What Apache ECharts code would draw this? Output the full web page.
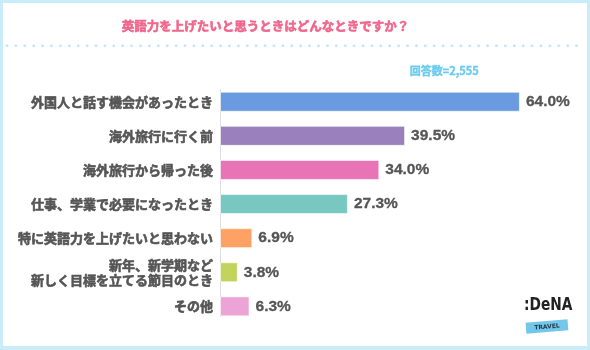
<!DOCTYPE html>
<html>
<head>
<meta charset="utf-8">
<script src="https://cdn.jsdelivr.net/npm/echarts@6/dist/echarts.min.js"></script>
<style>
  html, body { margin: 0; padding: 0; background: #c9ecf9; width: 590px; height: 350px; overflow: hidden; }
  #chart { position: absolute; left: 3px; top: 3px; width: 584px; height: 343px; background: #ffffff; }
</style>
</head>
<body>
<div id="chart"></div>
<script>
// Survey answers (multiple choice), share of respondents in percent
const categories = [
  '外国人と話す機会があったとき',
  '海外旅行に行く前',
  '海外旅行から帰った後',
  '仕事、学業で必要になったとき',
  '特に英語力を上げたいと思わない',
  '新年、新学期など\n新しく目標を立てる節目のとき',
  'その他'
];
const values = [64.0, 39.5, 34.0, 27.3, 6.9, 3.8, 6.3];
const titleText = '英語力を上げたいと思うときはどんなときですか？';
const sampleText = '回答数=2,555';

const palette = ['#6a9be0', '#9b80be', '#e874b6', '#78c7c0', '#fea164', '#c3d45e', '#eca3d5'];

const chart = echarts.init(document.getElementById('chart'), null, { renderer: 'canvas' });

const gridLeft = 217, gridTop = 81.7, gridHeight = 238.7;

chart.setOption({
  animation: false,
  title: {
    text: titleText,
    left: 257.5,
    top: 12,
    textAlign: 'center',
    textStyle: {
      color: '#f0668c', fontSize: 12.5, fontWeight: 'bold', fontFamily: 'Noto Sans CJK JP',
      textBorderColor: '#f0668c', textBorderWidth: 0.6
    }
  },
  grid: { left: gridLeft, top: gridTop, width: 328, height: gridHeight },
  xAxis: { type: 'value', min: 0, max: 70, show: false },
  yAxis: {
    type: 'category',
    data: categories,
    inverse: true,
    axisLine: { show: false },
    axisTick: { show: false },
    axisLabel: {
      margin: 7,
      color: '#555555',
      fontSize: 13,
      fontWeight: 'bold',
      lineHeight: 15,
      fontFamily: 'Noto Sans CJK JP',
      textBorderColor: '#555555',
      textBorderWidth: 0.6
    }
  },
  series: [{
    type: 'bar',
    data: values.map((v, i) => ({ value: v, itemStyle: { color: palette[i] } })),
    barWidth: 20,
    itemStyle: { borderColor: 'rgba(255,255,255,0.6)', borderWidth: 1 },
    label: {
      show: true,
      position: 'right',
      distance: 6,
      formatter: p => p.value.toFixed(1) + '%',
      color: '#555555',
      fontSize: 15.5,
      fontWeight: 'bold',
      fontFamily: 'Liberation Sans',
      textBorderColor: '#555555',
      textBorderWidth: 0.3
    }
  }],
  graphic: [
    // dotted separator under the heading
    {
      type: 'line',
      shape: { x1: 4, y1: 42.7, x2: 582, y2: 42.7 },
      style: { stroke: '#c6e9f8', lineWidth: 3, lineCap: 'round', lineDash: [0, 8.9] },
      silent: true
    },
    // vertical baseline of the bars
    {
      type: 'line',
      shape: { x1: 217.5, y1: 86, x2: 217.5, y2: 314 },
      style: { stroke: '#dddddd', lineWidth: 1 },
      silent: true
    },
    {
      type: 'text',
      right: 584 - 476,
      top: 62,
      style: {
        text: sampleText, fill: '#6ccbef', font: 'bold 11px "Noto Sans CJK JP"',
        stroke: '#6ccbef', lineWidth: 0.4
      }
    },
    // brand mark
    {
      type: 'group',
      left: 521,
      top: 293,
      children: [
        {
          type: 'text',
          x: 0, y: 0,
          scaleX: 0.85,
          style: { text: ':DeNA', fill: '#222222', font: 'bold 18px "DejaVu Sans Condensed"' }
        },
        {
          type: 'group',
          x: 23, y: 31,
          rotation: 0.08,
          children: [
            { type: 'rect', shape: { x: -21, y: -6, width: 42, height: 11 }, style: { fill: '#72c7ea' } },
            { type: 'text', x: 0, y: 0, style: { text: 'TRAVEL', fill: '#1d3a4a', font: 'bold 6px "DejaVu Sans"', textAlign: 'center', textVerticalAlign: 'middle' } }
          ]
        }
      ]
    }
  ]
});
</script>
</body>
</html>
